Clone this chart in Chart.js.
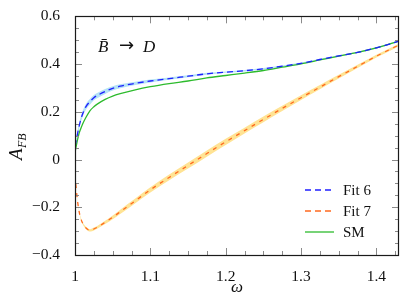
<!DOCTYPE html>
<html>
<head>
<meta charset="utf-8">
<script src="https://cdn.jsdelivr.net/npm/chart.js@4"></script>
<style>
  html, body { margin: 0; padding: 0; background: #fff; }
  #wrap { width: 400px; height: 299px; }
</style>
</head>
<body>
<div id="wrap"><canvas id="afb"></canvas></div>
<script>
// ── data ──
const omega = [1, 1.0025, 1.005, 1.0075, 1.01, 1.015, 1.02, 1.025, 1.03, 1.04, 1.05, 1.06, 1.08, 1.1,
  1.125, 1.15, 1.175, 1.2, 1.225, 1.25, 1.275, 1.3, 1.325, 1.35, 1.375, 1.4, 1.43];
const fit6 = [0.055, 0.095, 0.133, 0.165, 0.19, 0.224, 0.243, 0.259, 0.269, 0.285, 0.298, 0.307, 0.319, 0.329,
  0.339, 0.349, 0.359, 0.366, 0.372, 0.380, 0.391, 0.403, 0.419, 0.434, 0.449, 0.468, 0.496];
const fit6Err = [0.006, 0.01, 0.012, 0.012, 0.012, 0.012, 0.012, 0.011, 0.011, 0.01, 0.009, 0.008, 0.007, 0.006,
  0.005, 0.004, 0.004, 0.003, 0.003, 0.003, 0.003, 0.003, 0.003, 0.003, 0.003, 0.003, 0.003];
const fit7 = [-0.065, -0.15, -0.21, -0.245, -0.266, -0.288, -0.297, -0.291, -0.283, -0.263, -0.242, -0.219, -0.173, -0.127,
  -0.075, -0.025, 0.025, 0.074, 0.121, 0.168, 0.214, 0.259, 0.303, 0.347, 0.39, 0.433, 0.48];
const fit7Err = [0.003, 0.003, 0.004, 0.004, 0.004, 0.005, 0.005, 0.006, 0.006, 0.007, 0.008, 0.009, 0.01, 0.011,
  0.012, 0.013, 0.013, 0.013, 0.012, 0.012, 0.011, 0.01, 0.009, 0.008, 0.007, 0.006, 0.005];
const sm = [0.03, 0.07, 0.105, 0.128, 0.148, 0.179, 0.205, 0.221, 0.233, 0.252, 0.266, 0.276, 0.292, 0.305,
  0.318, 0.329, 0.342, 0.352, 0.362, 0.373, 0.387, 0.401, 0.417, 0.433, 0.449, 0.468, 0.496];

const xTicks = [1, 1.1, 1.2, 1.3, 1.4];
const yTicks = [-0.4, -0.2, 0, 0.2, 0.4, 0.6];
const legendLabels = ['Fit 6', 'Fit 7', 'SM'];

const SERIF = '"Liberation Serif", "DejaVu Serif", serif';
const BLUE = '#1f1fff', BLUE_BAND = '#b4e2f6';
const ORANGE = '#ff6a1f', YELLOW_BAND = '#ffe394';
const GREEN = '#2dbb2d';

const pts = (ys) => omega.map((x, i) => ({ x, y: ys[i] }));
const lo = (ys, es) => omega.map((x, i) => ({ x, y: ys[i] - es[i] }));
const hi = (ys, es) => omega.map((x, i) => ({ x, y: ys[i] + es[i] }));

const line = (data, color, dash, order) => ({
  data, borderColor: color, borderWidth: 1.3, borderDash: dash,
  pointRadius: 0, fill: false, cubicInterpolationMode: 'monotone', order,
});
const band = (data, color, fill, order) => ({
  data, borderWidth: 0, borderColor: 'transparent', backgroundColor: color,
  pointRadius: 0, fill, cubicInterpolationMode: 'monotone', order,
});

// ── frame, inward ticks, titles, annotation, legend ──
const decor = {
  id: 'decor',
  afterDatasetsDraw(chart) {
    const { ctx, chartArea: a, scales: { x, y } } = chart;
    ctx.save();
    ctx.lineWidth = 1;
    ctx.strokeStyle = '#8a8a8a';
    ctx.beginPath();
    for (let v = 1; v <= 1.43 + 1e-9; v += 0.025) {
      const px = Math.round(x.getPixelForValue(v)) + 0.5;
      const major = xTicks.some(t => Math.abs(t - v) < 1e-6);
      const len = major ? 7 : 4;
      ctx.moveTo(px, a.bottom); ctx.lineTo(px, a.bottom - len);
      ctx.moveTo(px, a.top); ctx.lineTo(px, a.top + len);
    }
    for (let v = -0.4; v <= 0.6 + 1e-9; v += 0.05) {
      const py = Math.round(y.getPixelForValue(v)) + 0.5;
      const major = yTicks.some(t => Math.abs(t - v) < 1e-6);
      const len = major ? 7 : 4;
      ctx.moveTo(a.left, py); ctx.lineTo(a.left + len, py);
      ctx.moveTo(a.right, py); ctx.lineTo(a.right - len, py);
    }
    ctx.stroke();

    ctx.strokeStyle = '#1a1a1a';
    ctx.lineWidth = 1.2;
    ctx.strokeRect(Math.round(a.left) + 0.5, Math.round(a.top) + 0.5,
      Math.round(a.right - a.left) - 1, Math.round(a.bottom - a.top));

    ctx.fillStyle = '#111';
    // annotation
    ctx.font = 'italic 17px ' + SERIF;
    ctx.textBaseline = 'alphabetic';
    ctx.textAlign = 'left';
    ctx.fillText('B\u0304', 98, 52);
    ctx.font = '18px "DejaVu Sans", sans-serif';
    ctx.fillText('\u2192', 119, 51);
    ctx.font = 'italic 17px ' + SERIF;
    ctx.fillText('D', 143, 52);

    // x title
    ctx.font = 'italic 17px ' + SERIF;
    ctx.textAlign = 'center';
    ctx.fillText('\u03c9', 237, 292);

    // y title
    ctx.save();
    ctx.translate(22, 160);
    ctx.rotate(-Math.PI / 2);
    ctx.textAlign = 'left';
    ctx.font = 'italic 19px ' + SERIF;
    ctx.fillText('A', 0, 0);
    ctx.font = 'italic 12px ' + SERIF;
    ctx.fillText('FB', 12, 4);
    ctx.restore();

    // legend
    const colors = [BLUE, ORANGE, GREEN];
    const dashes = [[6, 4], [6, 4], []];
    ctx.font = '15px ' + SERIF;
    ctx.textAlign = 'left';
    ctx.textBaseline = 'middle';
    legendLabels.forEach((lab, i) => {
      const ly = 190 + i * 21;
      ctx.beginPath();
      ctx.setLineDash(dashes[i]);
      ctx.strokeStyle = colors[i];
      ctx.lineWidth = 1.3;
      ctx.moveTo(305, ly); ctx.lineTo(334, ly);
      ctx.stroke();
      ctx.setLineDash([]);
      ctx.fillStyle = '#111';
      ctx.fillText(lab, 343, ly + 1);
    });
    ctx.restore();
  },
};

new Chart(document.getElementById('afb'), {
  type: 'line',
  data: {
    datasets: [
      band(lo(fit6, fit6Err), BLUE_BAND, false, 10),
      band(hi(fit6, fit6Err), BLUE_BAND, '-1', 10),
      band(lo(fit7, fit7Err), YELLOW_BAND, false, 10),
      band(hi(fit7, fit7Err), YELLOW_BAND, '-1', 10),
      line(pts(sm), GREEN, [], 3),
      line(pts(fit7), ORANGE, [4, 5], 2),
      line(pts(fit6), BLUE, [6, 4], 1),
    ],
  },
  options: {
    responsive: true,
    maintainAspectRatio: false,
    animation: false,
    layout: { padding: { top: 11, right: 1, left: 0, bottom: 0 } },
    plugins: { legend: { display: false }, tooltip: { enabled: false } },
    scales: {
      x: {
        type: 'linear', min: 1, max: 1.43,
        grid: { display: false }, border: { display: false },
        afterBuildTicks: s => { s.ticks = xTicks.map(v => ({ value: v })); },
        afterFit: s => { s.height = 44; },
        ticks: {
          color: '#111', padding: 5, maxRotation: 0,
          font: { family: SERIF, size: 15.5 },
          callback: v => String(v),
        },
      },
      y: {
        type: 'linear', min: -0.4, max: 0.6,
        grid: { display: false }, border: { display: false },
        afterBuildTicks: s => { s.ticks = yTicks.map(v => ({ value: v })); },
        afterFit: s => { s.width = 75; },
        ticks: {
          color: '#111', padding: 7,
          font: { family: SERIF, size: 15.5 },
          callback: v => (v < 0 ? '\u2212' + Math.abs(v) : String(v)),
        },
      },
    },
  },
  plugins: [decor],
});
</script>
</body>
</html>
